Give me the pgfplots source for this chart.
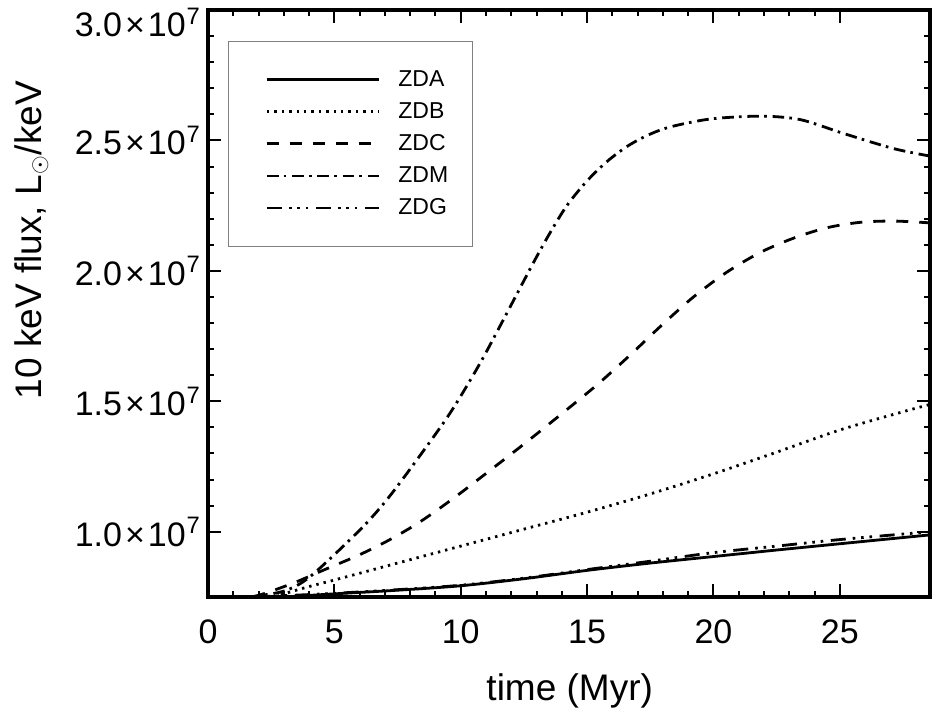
\documentclass[border=0pt]{standalone}
\usepackage{fontspec}
\setmainfont{Liberation Sans}
\usepackage{pgfplots}
\pgfplotsset{compat=1.18}

\pgfplotstableread{
x y
3.0 7.50
4.0 7.56
5.0 7.62
7.5 7.76
10.0 7.93
12.5 8.20
15.0 8.52
17.5 8.80
20.0 9.05
22.5 9.30
25.0 9.54
28.57 9.88
}\zda
\pgfplotstableread{
x y
2.6 7.50
3.0 7.62
4.0 7.90
5.0 8.15
7.5 8.80
10.0 9.45
12.5 10.10
15.0 10.75
17.5 11.45
20.0 12.22
22.5 13.05
25.0 13.90
27.5 14.60
28.57 14.88
}\zdb
\pgfplotstableread{
x y
1.8 7.50
2.5 7.72
3.5 8.08
4.5 8.50
6.0 9.12
7.2 9.70
8.39 10.38
9.71 11.28
11.09 12.30
12.54 13.39
13.93 14.47
15.38 15.62
16.70 16.77
17.89 17.86
19.21 19.00
20.53 19.95
21.84 20.70
23.16 21.25
24.48 21.65
25.80 21.86
27.12 21.91
28.57 21.84
}\zdc
\pgfplotstableread{
x y
1.6 7.50
2.98 7.72
4.04 8.28
6.01 10.07
7.07 11.22
8.26 12.75
9.58 14.55
10.76 16.45
11.82 18.37
12.87 20.30
13.53 21.45
14.20 22.50
15.00 23.45
15.80 24.20
16.60 24.78
17.40 25.20
18.30 25.52
19.87 25.82
21.84 25.93
23.43 25.80
25.14 25.27
27.12 24.69
28.57 24.40
}\zdm
\pgfplotstableread{
x y
1.5 7.50
3.0 7.55
5.0 7.64
7.5 7.78
10.0 7.95
12.5 8.22
15.0 8.55
17.5 8.87
20.0 9.20
22.5 9.45
25.0 9.70
28.57 10.00
}\zdg

\newcommand{\tl}[1]{#1\kern1.5pt×\kern1.5pt10\textsuperscript{\kern0.5pt 7}}

\begin{document}
\begin{tikzpicture}
\begin{axis}[
  scale only axis,
  width=361pt, height=293.5pt,
  xmin=0, xmax=28.57, ymin=7.5, ymax=30,
  xtick={0,5,10,15,20,25}, xticklabels={0,5,10,15,20,25},
  ytick={10,15,20,25,30},
  yticklabels={\tl{1.0},\tl{1.5},\tl{2.0},\tl{2.5},\rule{0pt}{27pt}\tl{3.0}},
  minor x tick num=4, minor y tick num=4,
  tick align=inside,
  xtick pos=both, ytick pos=both,
  major tick length=6.5pt, minor tick length=3pt,
  every tick/.style={black, line width=1pt},
  axis line style={line width=1.6pt},
  tick label style={font=\fontsize{17}{20}\selectfont},
  xticklabel style={yshift=-8pt},
  label style={font=\fontsize{18.5}{22}\selectfont},
  xlabel={time (Myr)},
  ylabel={10 keV flux, L$_\odot$/keV},
  xlabel style={at={(axis description cs:0.501,-0.1755)}, anchor=base},
  ylabel style={at={(axis description cs:-0.2446,0.608)}, anchor=center},
  legend style={
    at={(axis description cs:0,1)}, anchor=north west, xshift=10pt, yshift=-15.5pt,
    draw=gray, line width=0.6pt,
    font=\fontsize{11.5}{13}\selectfont,
    inner xsep=12.2pt, inner ysep=14.3pt,
    row sep=6.6pt, column sep=9pt,
    nodes={inner sep=0pt},
  },
  legend cell align=left,
  legend image code/.code={\path (0pt,0pt); \draw[#1] (6.3pt,0pt) -- (62.3pt,0pt);},
  every axis plot/.append style={black, line width=1.4pt, no markers, smooth},
]
\addplot[solid] table {\zda};
\addlegendentry{ZDA}
\addplot[dash pattern=on 1.2pt off 2.5pt] table {\zdb};
\addlegendentry{ZDB}
\addplot[dash pattern=on 6pt off 5.5pt] table {\zdc};
\addlegendentry{ZDC}
\addplot[dash pattern=on 5.8pt off 2.6pt on 1.3pt off 2.9pt] table {\zdm};
\addlegendentry{ZDM}
\addplot[dash pattern=on 7.5pt off 3.5pt on 1.3pt off 2.9pt on 1.3pt off 2.9pt on 1.3pt off 3.8pt] table {\zdg};
\addlegendentry{ZDG}
\coordinate (bl) at (rel axis cs:0,0);
\coordinate (tr) at (rel axis cs:1,1);
\end{axis}
\pgfresetboundingbox
\path ([xshift=-104pt,yshift=-61.5pt]bl) rectangle ([xshift=10pt,yshift=5pt]tr);
\end{tikzpicture}
\end{document}
